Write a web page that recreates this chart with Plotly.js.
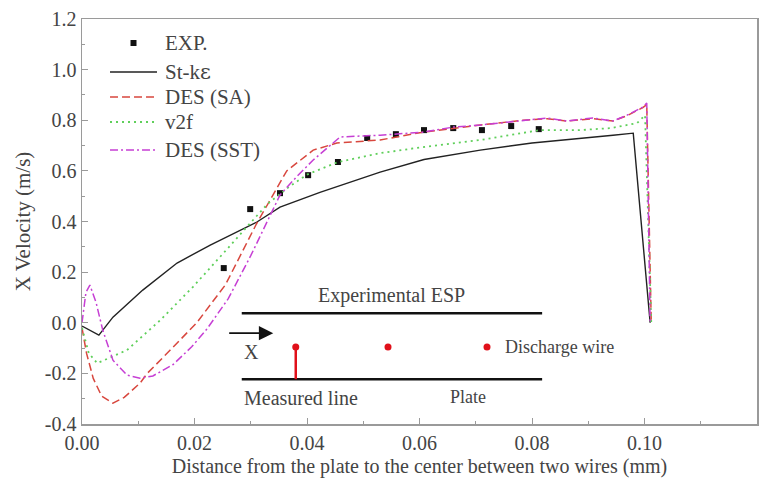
<!DOCTYPE html>
<html>
<head>
<meta charset="utf-8">
<script src="https://cdn.plot.ly/plotly-3.0.1.min.js"></script>
<style>html,body{margin:0;padding:0;background:#fff;}#chart{width:774px;height:491px;}</style>
</head>
<body>
<div id="chart"></div>
<script>
// ---- data ----
const expX = [0.0252, 0.0299, 0.0352, 0.0402, 0.0455, 0.0507, 0.0558, 0.0608, 0.0660, 0.0711, 0.0763, 0.0812];
const expY = [0.216, 0.449, 0.512, 0.583, 0.635, 0.730, 0.745, 0.761, 0.769, 0.761, 0.777, 0.765];

const keX = [0, 0.003, 0.0055, 0.0108, 0.0169, 0.0228, 0.0311, 0.0352, 0.0423, 0.053, 0.0608, 0.0708, 0.080, 0.0885, 0.0944, 0.098, 0.101];
const keY = [-0.013, -0.049, 0.022, 0.129, 0.236, 0.307, 0.398, 0.457, 0.515, 0.595, 0.645, 0.682, 0.710, 0.730, 0.741, 0.749, 0.0];

const saX = [0, 0.0008, 0.002, 0.0035, 0.0055, 0.0075, 0.0103, 0.0116, 0.0156, 0.0204, 0.0255, 0.031, 0.0364, 0.0411, 0.0453, 0.053, 0.0606, 0.066, 0.0708, 0.0784, 0.0827, 0.0862, 0.0908, 0.0944, 0.0969, 0.0997, 0.1004, 0.1012];
const saY = [-0.02, -0.12, -0.22, -0.29, -0.318, -0.295, -0.239, -0.2, -0.11, 0.0, 0.15, 0.39, 0.60, 0.682, 0.71, 0.722, 0.753, 0.769, 0.781, 0.80, 0.806, 0.797, 0.806, 0.797, 0.818, 0.85, 0.862, 0.0];

const v2fX = [0, 0.0012, 0.0027, 0.008, 0.0139, 0.0197, 0.0245, 0.0293, 0.033, 0.037, 0.040, 0.0455, 0.053, 0.0606, 0.0708, 0.0814, 0.0885, 0.094, 0.0987, 0.1001, 0.1012];
const v2fY = [-0.02, -0.12, -0.16, -0.108, 0.01, 0.141, 0.259, 0.378, 0.47, 0.54, 0.585, 0.635, 0.67, 0.694, 0.722, 0.761, 0.761, 0.769, 0.789, 0.82, 0.0];

const sstX = [0, 0.0007, 0.0014, 0.0025, 0.0037, 0.0055, 0.008, 0.0103, 0.0126, 0.0162, 0.0195, 0.0222, 0.026, 0.030, 0.0338, 0.0352, 0.0382, 0.0411, 0.0459, 0.053, 0.0606, 0.066, 0.0708, 0.0784, 0.0827, 0.0862, 0.0908, 0.0944, 0.0969, 0.0997, 0.1004, 0.101];
const sstY = [0.0, 0.12, 0.149, 0.08, -0.03, -0.148, -0.207, -0.219, -0.21, -0.165, -0.095, -0.025, 0.095, 0.265, 0.44, 0.505, 0.578, 0.643, 0.734, 0.741, 0.753, 0.773, 0.781, 0.80, 0.809, 0.797, 0.809, 0.797, 0.82, 0.852, 0.868, 0.0];

const seriesNames = ['EXP.', 'St-k<span style="font-family:DejaVu Serif">\u03b5</span>', 'DES (SA)', 'v2f', 'DES (SST)'];
const xTicks = [0, 0.02, 0.04, 0.06, 0.08, 0.10, 0.12];
const xTickText = ['0.00', '0.02', '0.04', '0.06', '0.08', '0.10', '0.12'];
const yTicks = [-0.4, -0.2, 0.0, 0.2, 0.4, 0.6, 0.8, 1.0, 1.2];
const yTickText = ['-0.4', '-0.2', '0.0', '0.2', '0.4', '0.6', '0.8', '1.0', '1.2'];

// inset diagram (schematic) positions in data units
const insetTopLine = {x0: 0.0284, x1: 0.0818, y: 0.038};
const insetBotLine = {x0: 0.0284, x1: 0.0818, y: -0.223};
const wiresX = [0.0380, 0.0544, 0.0720];
const wiresY = -0.096;

const FONT = 'Liberation Serif';
function f(size) { return {family: FONT, size: size}; }

const styles = [
  null,
  {color: '#222', width: 1.4},
  {color: '#d8473e', width: 1.5, dash: '8px,4px'},
  {color: '#5fcf5a', width: 1.8, dash: '2px,4px'},
  {color: '#c63fd4', width: 1.5, dash: '8px,3px,2px,3px'}
];

const traces = [
  {x: expX, y: expY, name: 'EXP.', mode: 'markers', type: 'scatter',
   marker: {symbol: 'square', size: 6, color: '#111'}},
  {x: keX, y: keY, name: 'St-k', mode: 'lines', type: 'scatter', line: styles[1]},
  {x: saX, y: saY, name: 'DES (SA)', mode: 'lines', type: 'scatter', line: styles[2]},
  {x: v2fX, y: v2fY, name: 'v2f', mode: 'lines', type: 'scatter', line: styles[3]},
  {x: sstX, y: sstY, name: 'DES (SST)', mode: 'lines', type: 'scatter', line: styles[4]},
  {x: wiresX, y: wiresX.map(() => wiresY), mode: 'markers', type: 'scatter',
   marker: {color: '#e0101a', size: 7}, hoverinfo: 'skip'}
];

function axisBase() {
  return {
    showgrid: false, zeroline: false, showline: true, linecolor: '#9a9a9a', linewidth: 1.5,
    mirror: true, ticks: 'inside', ticklen: 6, tickcolor: '#9a9a9a', tickwidth: 1,
    tickfont: f(20)
  };
}

const xaxis = axisBase();
xaxis.range = [0, 0.12];
xaxis.tickvals = xTicks;
xaxis.ticktext = xTickText;
xaxis.minor = {ticks: 'inside', ticklen: 3, tickcolor: '#9a9a9a', tickwidth: 1, dtick: 0.01, tick0: 0};
xaxis.title = {text: 'Distance from the plate to the center between two wires (mm)', font: f(20), standoff: 6};

const yaxis = axisBase();
yaxis.range = [-0.4, 1.2];
yaxis.tickvals = yTicks;
yaxis.ticktext = yTickText;
yaxis.minor = {ticks: 'inside', ticklen: 3, tickcolor: '#9a9a9a', tickwidth: 1, dtick: 0.1, tick0: 0};
yaxis.title = {text: 'X Velocity (m/s)', font: f(21), standoff: 8};

// legend layout (paper units)
const legRowsY = [0.9407, 0.8691, 0.8074, 0.7457, 0.6765];
const legLineX = [0.0415, 0.1111];
const legTextX = 0.12;

const shapes = [
  {type: 'line', xref: 'x', yref: 'y', x0: insetTopLine.x0, x1: insetTopLine.x1, y0: insetTopLine.y, y1: insetTopLine.y,
   line: {color: '#111', width: 2.5}},
  {type: 'line', xref: 'x', yref: 'y', x0: insetBotLine.x0, x1: insetBotLine.x1, y0: insetBotLine.y, y1: insetBotLine.y,
   line: {color: '#111', width: 2.5}},
  {type: 'line', xref: 'x', yref: 'y', x0: wiresX[0], x1: wiresX[0], y0: wiresY, y1: insetBotLine.y,
   line: {color: '#e0101a', width: 2.5}},
  {type: 'rect', xref: 'paper', yref: 'paper', xsizemode: 'pixel', ysizemode: 'pixel',
   xanchor: (legLineX[0] + legLineX[1]) / 2, yanchor: legRowsY[0], x0: -3, x1: 3, y0: -3, y1: 3,
   fillcolor: '#111', line: {width: 0}}
];
for (let i = 1; i < 5; i++) {
  shapes.push({type: 'line', xref: 'paper', yref: 'paper', x0: legLineX[0], x1: legLineX[1],
               y0: legRowsY[i], y1: legRowsY[i], line: styles[i]});
}

const annotations = [
  {xref: 'x', yref: 'y', x: 0.0551, y: 0.109, text: 'Experimental ESP', showarrow: false, font: f(20)},
  {xref: 'x', yref: 'y', x: 0.0340, y: -0.041, ax: 0.0259, ay: -0.041, axref: 'x', ayref: 'y',
   text: '', showarrow: true, arrowhead: 2, arrowsize: 1.6, arrowwidth: 1.8, arrowcolor: '#111'},
  {xref: 'x', yref: 'y', x: 0.0284, y: -0.116, text: 'X', showarrow: false, xanchor: 'left', font: f(20)},
  {xref: 'x', yref: 'y', x: 0.0748, y: -0.096, text: 'Discharge wire', showarrow: false, xanchor: 'left', font: f(18)},
  {xref: 'x', yref: 'y', x: 0.0284, y: -0.298, text: 'Measured line', showarrow: false, xanchor: 'left', font: f(20)},
  {xref: 'x', yref: 'y', x: 0.0686, y: -0.294, text: 'Plate', showarrow: false, font: f(18)}
];
for (let i = 0; i < 5; i++) {
  annotations.push({xref: 'paper', yref: 'paper', x: legTextX, y: legRowsY[i], xanchor: 'left', yanchor: 'middle',
                    text: seriesNames[i], showarrow: false, font: f(21)});
}

const layout = {
  width: 774, height: 491,
  margin: {l: 82, r: 17, t: 19, b: 67},
  paper_bgcolor: '#fff', plot_bgcolor: '#fff',
  showlegend: false,
  xaxis: xaxis,
  yaxis: yaxis,
  shapes: shapes,
  annotations: annotations
};

Plotly.newPlot('chart', traces, layout, {displayModeBar: false, staticPlot: true});
</script>
</body>
</html>
